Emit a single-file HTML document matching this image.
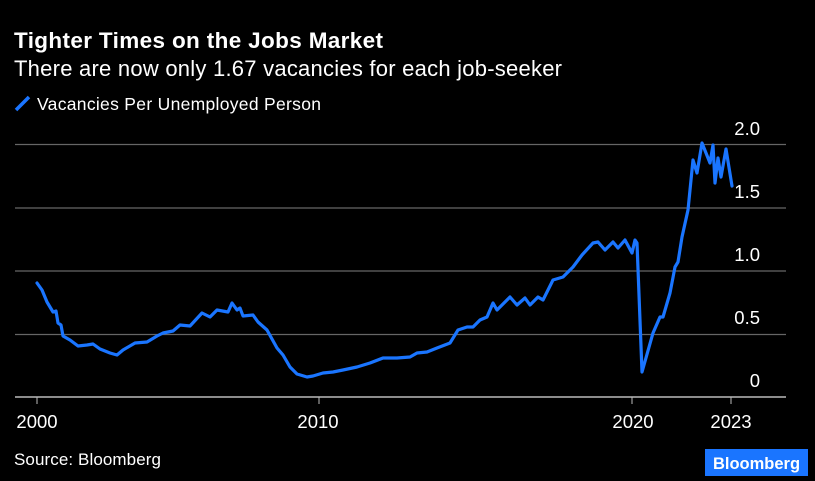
<!DOCTYPE html>
<html><head><style>
body{margin:0;background:#000;width:815px;height:481px;overflow:hidden;font-family:"Liberation Sans",sans-serif;color:#fff}
</style></head><body>
<svg width="815" height="481" xmlns="http://www.w3.org/2000/svg" style="position:absolute;left:0;top:0">
<text x="14" y="48" font-size="22.5" font-weight="bold" fill="#fff" font-family="Liberation Sans" textLength="369">Tighter Times on the Jobs Market</text>
<text x="14" y="76" font-size="22" fill="#fff" font-family="Liberation Sans" textLength="548">There are now only 1.67 vacancies for each job-seeker</text>
<line x1="16" y1="110" x2="29" y2="97" stroke="#1a75ff" stroke-width="3.5"/>
<text x="37" y="110" font-size="17.5" fill="#fff" font-family="Liberation Sans" textLength="284">Vacancies Per Unemployed Person</text>
<g stroke="#666" stroke-width="1.2">
<line x1="15" y1="144.5" x2="786" y2="144.5"/>
<line x1="15" y1="208" x2="786" y2="208"/>
<line x1="15" y1="271" x2="786" y2="271"/>
<line x1="15" y1="334.5" x2="786" y2="334.5"/>
</g>
<line x1="15" y1="397" x2="786" y2="397" stroke="#bbb" stroke-width="1.5"/>
<g stroke="#bbb" stroke-width="1"><line x1="37" y1="397" x2="37" y2="404"/><line x1="319" y1="397" x2="319" y2="404"/><line x1="632" y1="397" x2="632" y2="404"/><line x1="731" y1="397" x2="731" y2="404"/></g>
<g font-size="18.5" fill="#fff" font-family="Liberation Sans" text-anchor="end">
<text x="760" y="135">2.0</text><text x="760" y="198">1.5</text><text x="760" y="261">1.0</text><text x="760" y="324">0.5</text><text x="760" y="387">0</text>
</g>
<g font-size="18.5" fill="#fff" font-family="Liberation Sans" text-anchor="middle">
<text x="37" y="428">2000</text><text x="318" y="428">2010</text><text x="633" y="428">2020</text><text x="731" y="428">2023</text>
</g>
<text x="14" y="465" font-size="17" fill="#fff" font-family="Liberation Sans" textLength="147">Source: Bloomberg</text>
<rect x="705" y="449" width="103" height="27" fill="#1a75ff"/>
<text x="756.5" y="469" font-size="16.5" font-weight="bold" fill="#fff" text-anchor="middle" font-family="Liberation Sans">Bloomberg</text>
<polyline fill="none" stroke="#1a75ff" stroke-width="3.2" stroke-linejoin="round" stroke-linecap="round" points="37,283 42,290 47,302 53,312 56,311 58,323 61,325 63,336 70,340 78,346 87,345 93,344 100,349 110,353 117,355 123,350 135,343 147,342 157,336 163,333 173,331 180,325 190,326 202,313 210,317 217,310 228,312 232,303 237,310 240,308 243,316 253,315 258,322 267,330 277,348 283,355 290,367 297,374 307,377 313,376 323,373 333,372 343,370 357,367 370,363 383,358 397,358 410,357 417,353 427,352 437,348 450,343 458,330 467,327 473,327 480,320 487,317 493,303 497,310 510,297 517,305 525,298 530,305 538,297 543,300 553,280 563,277 573,267 582,255 593,243 598,242 605,250 613,242 618,248 625,240 632,253 635,240 637,243 642,372 653,333 660,317 663,317 670,293 675,267 678,262 682,237 688,210 693,160 697,173 702,143 710,163 713,145 715,183 718,158 721,177 726,149 732,186"/>
</svg>
</body></html>
